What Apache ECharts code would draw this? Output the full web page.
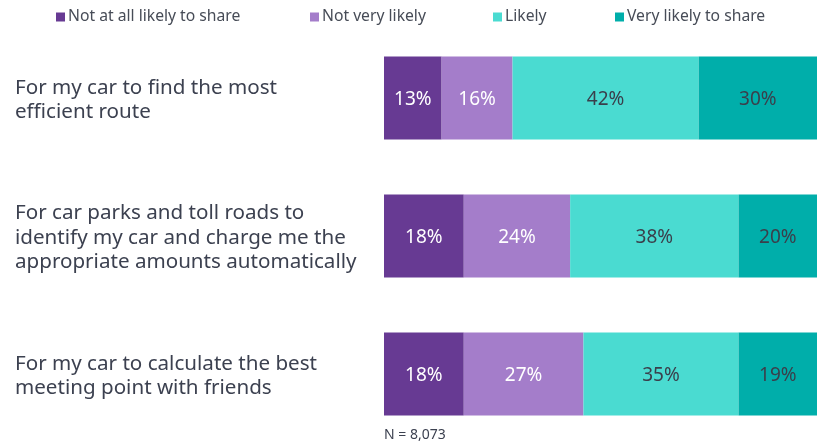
<!DOCTYPE html>
<html>
<head>
<meta charset="utf-8">
<script src="https://cdn.jsdelivr.net/npm/echarts@6/dist/echarts.min.js"></script>
<style>
  html, body { margin: 0; padding: 0; background: #fff; }
  #chart { width: 817px; height: 443px; }
</style>
</head>
<body>
<div id="chart"></div>
<script>
// Survey questions (top to bottom)
const categories = [
  'For my car to find the most\nefficient route',
  'For car parks and toll roads to\nidentify my car and charge me the\nappropriate amounts automatically',
  'For my car to calculate the best\nmeeting point with friends'
];

// Answer shares, percent
const notAtAllLikely = [13, 18, 18];
const notVeryLikely = [16, 24, 27];
const likely = [42, 38, 35];
const veryLikely = [30, 20, 19];

const seriesNames = ['Not at all likely to share', 'Not very likely', 'Likely', 'Very likely to share'];
const seriesData = [notAtAllLikely, notVeryLikely, likely, veryLikely];
const colors = ['#673a93', '#a47dca', '#4adbd1', '#00aeaa'];
const labelColors = ['#ffffff', '#ffffff', '#3a3f4b', '#3a3f4b'];
const legendLeft = [56, 310, 493, 615];

const FONT = 'Noto Sans';

const chart = echarts.init(document.getElementById('chart'), null, { renderer: 'canvas' });

const series = seriesNames.map((name, i) => ({
  name: name,
  type: 'bar',
  stack: 'total',
  barCategoryGap: '40%',
  data: seriesData[i],
  itemStyle: { color: colors[i] },
  label: {
    show: true,
    position: 'inside',
    offset: [0, 2],
    formatter: '{c}%',
    color: labelColors[i],
    fontFamily: FONT,
    fontSize: 19
  },
  emphasis: { disabled: true }
}));

const legends = seriesNames.map((name, i) => ({
  show: true,
  data: [name],
  left: legendLeft[i],
  top: 9,
  icon: 'rect',
  itemWidth: 9,
  itemHeight: 9,
  itemGap: 0,
  padding: 0,
  selectedMode: false,
  textStyle: { fontFamily: FONT, fontSize: 15.7, color: '#474c57', padding: [0, 0, 0, -2] }
}));

chart.setOption({
  animation: false,
  color: colors,
  legend: legends,
  grid: { left: 384, right: 0, top: 29, bottom: -3 },
  // the full 100% band runs slightly past the right edge of the canvas
  xAxis: {
    type: 'value',
    min: 0,
    max: 97.7,
    show: false
  },
  yAxis: {
    type: 'category',
    data: categories,
    inverse: true,
    axisLine: { show: false },
    axisTick: { show: false },
    axisLabel: {
      align: 'left',
      margin: 369,
      // a thin empty first line nudges the text block slightly downward
      formatter: v => '{s| }\n' + v.split('\n').map(line => '{t|' + line + '}').join('\n'),
      rich: {
        s: { fontSize: 1, lineHeight: 4 },
        t: {
          fontFamily: FONT,
          fontSize: 20.6,
          lineHeight: 24.5,
          color: '#3c4150'
        }
      }
    }
  },
  graphic: [{
    type: 'text',
    left: 384,
    top: 428,
    style: { text: 'N = 8,073', fontFamily: FONT, fontSize: 14, fill: '#3c4150' }
  }],
  series: series
});
</script>
</body>
</html>
